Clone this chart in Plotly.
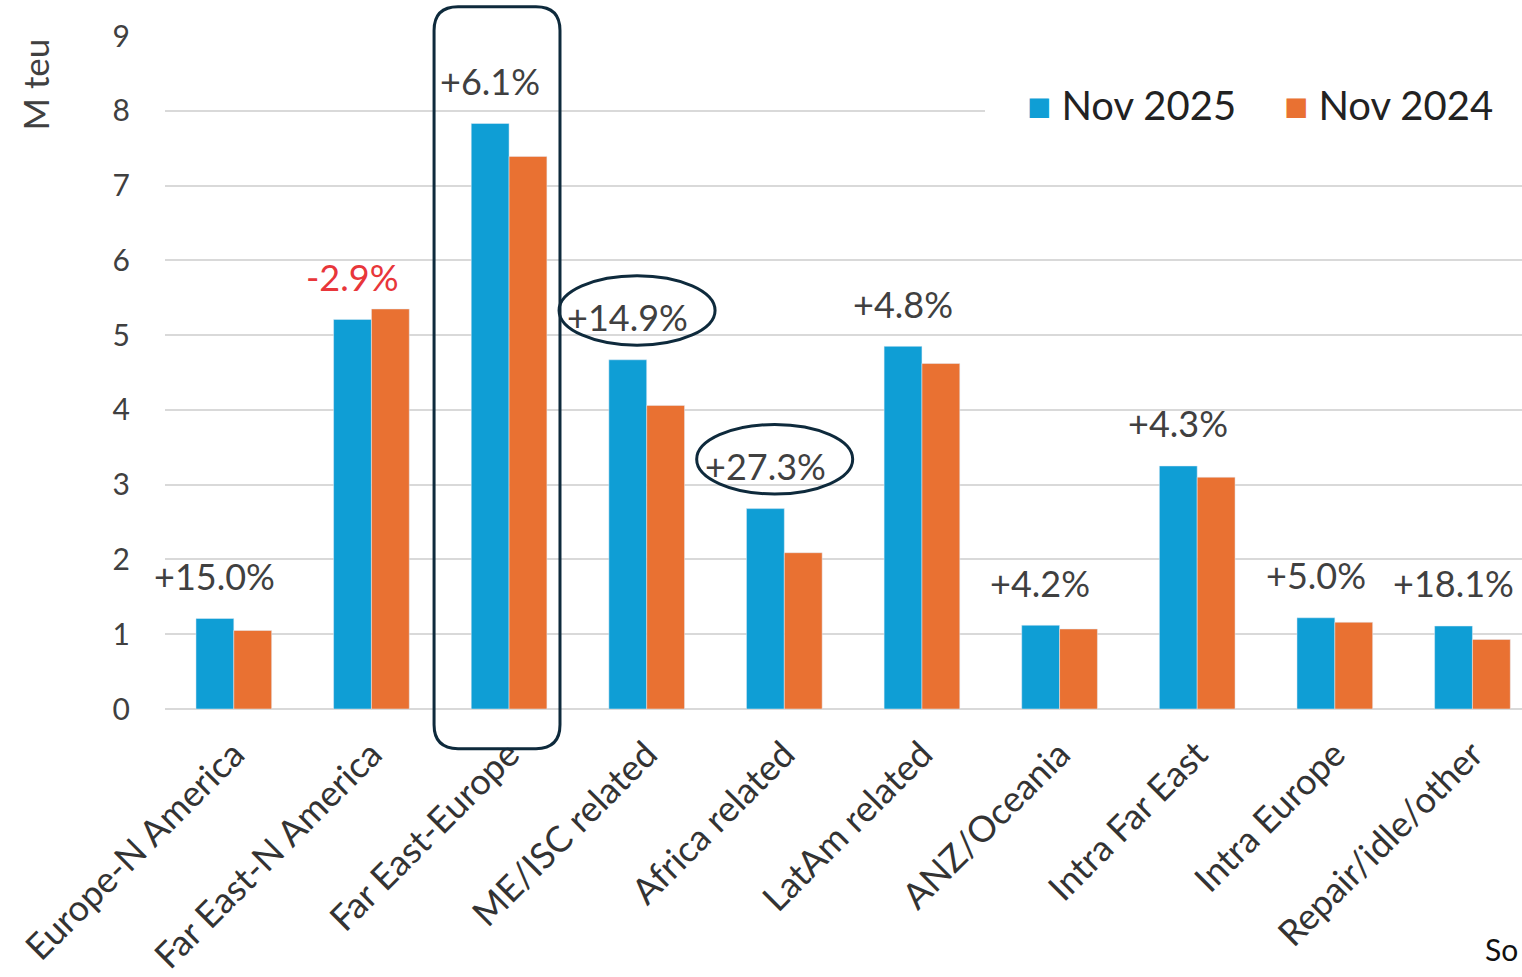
import plotly.graph_objects as go

categories = ["Europe-N America", "Far East-N America", "Far East-Europe", "ME/ISC related",
              "Africa related", "LatAm related", "ANZ/Oceania", "Intra Far East",
              "Intra Europe", "Repair/idle/other"]
nov_2025 = [1.21, 5.21, 7.83, 4.67, 2.68, 4.85, 1.12, 3.25, 1.22, 1.11]
nov_2024 = [1.05, 5.35, 7.39, 4.06, 2.09, 4.62, 1.07, 3.10, 1.16, 0.93]
changes = ["+15.0%", "-2.9%", "+6.1%", "+14.9%", "+27.3%", "+4.8%", "+4.2%", "+4.3%", "+5.0%", "+18.1%"]
series_names = ["Nov 2025", "Nov 2024"]
circled = ["ME/ISC related", "Africa related"]
boxed = "Far East-Europe"

BLUE = "#0F9ED5"
ORANGE = "#E97132"
NAVY = "#0E2A3C"
GRID = "#D9D9D9"
TXT = "#404040"
FONT = "Lato"

W, H = 1522, 977
ML, MR, MT, MB = 165, 0, 36, 262
XR = [-0.5, 9.36]
YR = [0, 9]
PW = W - ML - MR
PH = H - MT - MB


def px_x(xv):
    return (xv - XR[0]) / (XR[1] - XR[0])


def px_y(yv):
    return (yv - YR[0]) / (YR[1] - YR[0])


fig = go.Figure()
fig.add_trace(go.Bar(name=series_names[0], x=categories, y=nov_2025, marker_color=BLUE, showlegend=False))
fig.add_trace(go.Bar(name=series_names[1], x=categories, y=nov_2024, marker_color=ORANGE, showlegend=False))

annotations = []
shapes = []
for i, (c, ch) in enumerate(zip(categories, changes)):
    ytxt = nov_2025[i] + 0.57
    color = "#E8363A" if ch.startswith("-") else TXT
    annotations.append(dict(x=i - 0.14, y=ytxt, xref="x", yref="y", text=ch, showarrow=False,
                            font=dict(family=FONT, size=36, color=color),
                            xanchor="center", yanchor="middle"))
    if c in circled:
        xc, yc = px_x(i - 0.07), px_y(ytxt + 0.09)
        rx, ry = 78 / PW, 35 / PH
        shapes.append(dict(type="circle", xref="paper", yref="paper",
                           x0=xc - rx, x1=xc + rx, y0=yc - ry, y1=yc + ry,
                           line=dict(color=NAVY, width=3)))
    if c == boxed:
        x0, x1 = px_x(i - 0.545), px_x(i + 0.37)
        y0, y1 = px_y(-0.53), px_y(9.39)
        rx, ry = 24 / PW, 24 / PH
        path = (f"M {x0 + rx},{y1} L {x1 - rx},{y1} Q {x1},{y1} {x1},{y1 - ry} "
                f"L {x1},{y0 + ry} Q {x1},{y0} {x1 - rx},{y0} L {x0 + rx},{y0} "
                f"Q {x0},{y0} {x0},{y0 + ry} L {x0},{y1 - ry} Q {x0},{y1} {x0 + rx},{y1} Z")
        shapes.append(dict(type="path", xref="paper", yref="paper", path=path,
                           line=dict(color=NAVY, width=3)))

# legend (drawn as text with coloured squares, on a white panel that hides the gridline)
leg_y = (H - MB - 106) / PH
shapes.append(dict(type="rect", xref="paper", yref="paper", layer="above",
                   x0=(985 - ML) / PW, x1=1.0, y0=(H - MB - 140) / PH, y1=(H - MB - 72) / PH,
                   fillcolor="white", line=dict(width=0)))
for name, col, xl in [(series_names[0], BLUE, 1025), (series_names[1], ORANGE, 1282)]:
    annotations.append(dict(x=(xl - ML) / PW, y=leg_y, xref="paper", yref="paper",
                            text=f"<span style='color:{col}'>■</span> {name}", showarrow=False,
                            font=dict(family=FONT, size=40, color="#222222"),
                            xanchor="left", yanchor="middle"))

annotations.append(dict(x=(35 - ML) / PW, y=(H - MB - 85) / PH, xref="paper", yref="paper",
                        text="M teu", textangle=-90, showarrow=False,
                        font=dict(family=FONT, size=35, color=TXT),
                        xanchor="center", yanchor="middle"))
annotations.append(dict(x=(1520 - ML) / PW, y=(H - MB - 957) / PH, xref="paper", yref="paper",
                        text="So", showarrow=False,
                        font=dict(family=FONT, size=30, color="#111111"),
                        xanchor="right", yanchor="middle"))

fig.update_layout(
    width=W, height=H,
    margin=dict(l=ML, r=MR, t=MT, b=MB, pad=0),
    paper_bgcolor="white", plot_bgcolor="white",
    barmode="group", bargap=0.45, bargroupgap=0,
    font=dict(family=FONT, color=TXT),
    showlegend=False,
    xaxis=dict(range=XR, tickangle=-45, tickfont=dict(family=FONT, size=36, color="#333333"),
               showgrid=False, showline=False, ticks="", ticklabelstandoff=16),
    yaxis=dict(range=YR, dtick=1, tick0=0, showgrid=True, gridcolor=GRID, gridwidth=2,
               zeroline=True, zerolinecolor=GRID, zerolinewidth=2,
               tickfont=dict(family=FONT, size=30, color=TXT), ticks="", ticklabelstandoff=34),
    annotations=annotations, shapes=shapes,
)

fig.write_html("out.html", config={"displayModeBar": False},
               post_script="document.body.style.margin='0';document.body.style.overflow='hidden';")
